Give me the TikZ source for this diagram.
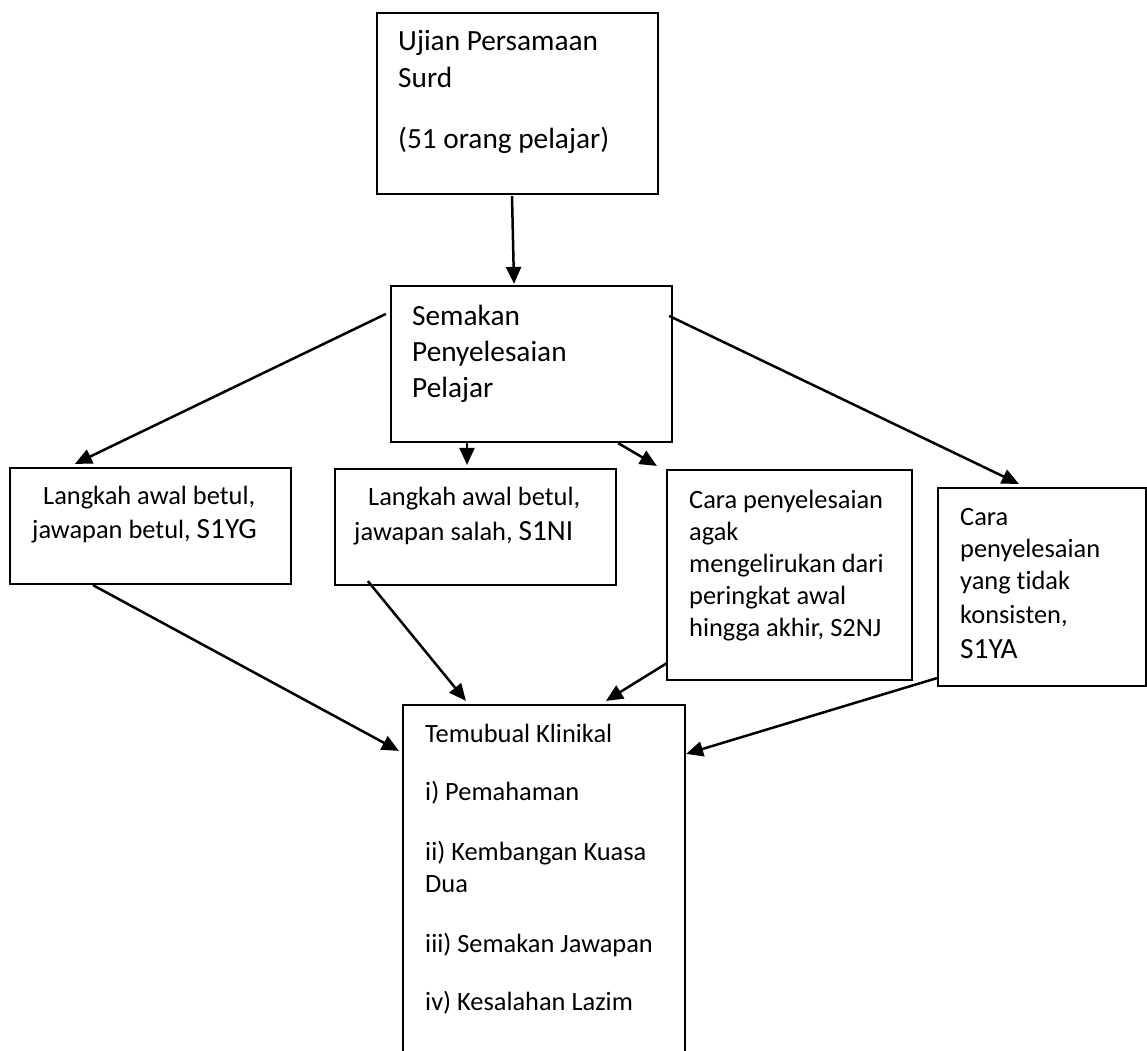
\documentclass[tikz,border=0pt]{standalone}
\usepackage{fontspec}
\setmainfont{Carlito}[Ligatures=NoCommon]
\usetikzlibrary{arrows.meta,fit,calc}
\begin{document}
\begin{tikzpicture}[x=1pt,y=-1pt,
  box/.style={draw,line width=2.2pt,inner sep=0pt},
  big/.style={anchor=base west,inner sep=0pt,font=\fontsize{29.3}{36}\selectfont},
  sml/.style={anchor=base west,inner sep=0pt,font=\fontsize{26.4}{32}\selectfont},
  conn/.style={line width=2.5pt,-{Triangle[length=17pt,width=15pt]}}]
\useasboundingbox (0,0) rectangle (1147,1050);

% boxes
\node[box,fit={(377,13) (658,194)}] (top) {};
\node[box,fit={(391,286) (672,442)}] (sem) {};
\node[box,fit={(10,468) (291,584)}] (b1) {};
\node[box,fit={(335,469) (616,585)}] (b2) {};
\node[box,fit={(667,470) (912,680)}] (b3) {};
\node[box,fit={(938,488) (1146,686)}] (b4) {};
\node[box,fit={(403,705) (685,1070)}] (bot) {};

% texts
\node[big] (ta) at (398,50) {Ujian Persamaan};
\node[big] (tb) at (398,87) {Surd};
\node[big] (tc) at (398,148) {(51 orang pelajar)};

\node[big] (sa) at (412,325) {Semakan};
\node[big] (sb) at (412,361) {Penyelesaian};
\node[big] (sc) at (412,397) {Pelajar};

\node[sml] (b1a) at (43,504) {Langkah awal betul,};
\node[sml] (b1b) at (32,538) {jawapan betul, {\fontsize{29.3}{36}\selectfont S1YG}};

\node[sml] (b2a) at (368,505) {Langkah awal betul,};
\node[sml] (b2b) at (354,540) {jawapan salah, {\fontsize{29.3}{36}\selectfont S1NI}};

\node[sml] (b3a) at (689,508) {Cara penyelesaian};
\node[sml] (b3b) at (689,540) {agak};
\node[sml] (b3c) at (689,572) {mengelirukan dari};
\node[sml] (b3d) at (689,604) {peringkat awal};
\node[sml] (b3e) at (689,636) {hingga akhir, S2NJ};

\node[sml] (b4a) at (960,525) {Cara};
\node[sml] (b4b) at (960,557) {penyelesaian};
\node[sml] (b4c) at (960,589) {yang tidak};
\node[sml] (b4d) at (960,623) {konsisten,};
\node[big] (b4e) at (960,658) {S1YA};

\node[sml] (ka) at (425,742) {Temubual Klinikal};
\node[sml] (kb) at (425,800) {i) Pemahaman};
\node[sml] (kc) at (425,860) {ii) Kembangan Kuasa};
\node[sml] (kd) at (425,892) {Dua};
\node[sml] (ke) at (425,952) {iii) Semakan Jawapan};
\node[sml] (kf) at (425,1010) {iv) Kesalahan Lazim};

% connectors
\draw[conn] ($(top.south)+(-5.5,1)$) -- ($(sem.north)+(-17.5,-1)$);
\draw[conn] ($(sem.north west)+(-4,29)$) -- ($(b1.north west)+(66,-3)$);
\draw[conn] ($(sem.south)+(-64.5,0)$) -- ($(b2.north)+(-8.5,-3)$);
\draw[conn] ($(sem.south east)+(-55,0)$) -- ($(b3.north west)+(-9,-3)$);
\draw[conn] ($(sem.north east)+(-4,31)$) -- ($(b4.north west)+(82,-3)$);
\draw[conn] ($(b1.south west)+(84,0)$) -- ($(bot.north west)+(-3,47)$);
\draw[conn] ($(b2.south west)+(34,-5)$) -- ($(bot.north west)+(64,-3)$);
\draw[conn] ($(b3.south west)+(1,-18)$) -- ($(bot.north west)+(204,-3)$);
\draw[conn] ($(b4.south west)+(0,-9)$) -- ($(bot.north east)+(0,50)$);
\end{tikzpicture}
\end{document}
